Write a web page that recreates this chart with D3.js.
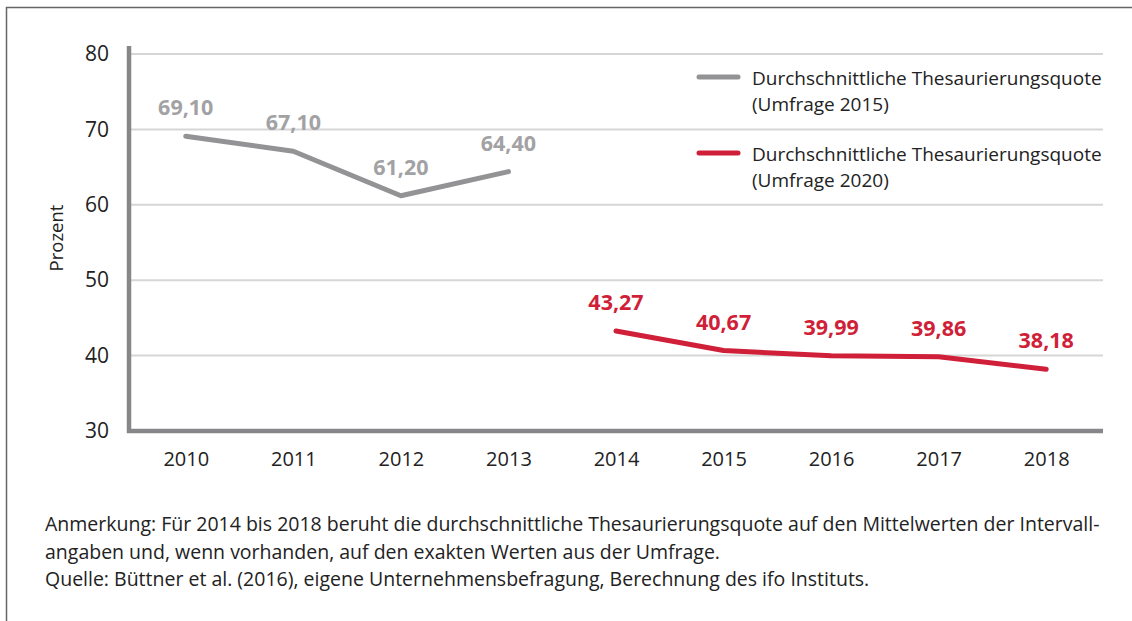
<!DOCTYPE html>
<html>
<head>
<meta charset="utf-8">
<script src="https://cdn.jsdelivr.net/npm/d3@7"></script>
<style>
  body { margin: 0; background: #fff; }
  svg { display: block; }
  text { font-family: "Open Sans", "Noto Sans", sans-serif; }
</style>
</head>
<body>
<div id="chart"></div>
<script>
const width = 1132;
const height = 621;

// data
const years = ['2010', '2011', '2012', '2013', '2014', '2015', '2016', '2017', '2018'];
const survey2015 = [
    { year: '2010', value: 69.10 },
    { year: '2011', value: 67.10 },
    { year: '2012', value: 61.20 },
    { year: '2013', value: 64.40 }
];
const survey2020 = [
    { year: '2014', value: 43.27 },
    { year: '2015', value: 40.67 },
    { year: '2016', value: 39.99 },
    { year: '2017', value: 39.86 },
    { year: '2018', value: 38.18 }
];
const yTicks = [30, 40, 50, 60, 70, 80];
const legendLabels = [
    ['Durchschnittliche Thesaurierungsquote', '(Umfrage 2015)'],
    ['Durchschnittliche Thesaurierungsquote', '(Umfrage 2020)']
];
const notes = [
    'Anmerkung: Für 2014 bis 2018 beruht die durchschnittliche Thesaurierungsquote auf den Mittelwerten der Intervall-',
    'angaben und, wenn vorhanden, auf den exakten Werten aus der Umfrage.',
    'Quelle: Büttner et al. (2016), eigene Unternehmensbefragung, Berechnung des ifo Instituts.'
];

const grey = '#939396';
const greyLabel = '#a2a2a4';
const red = '#d01f38';

const svg = d3.select('#chart')
    .append('svg')
    .attr('width', width)
    .attr('height', height);

// outer frame (only top and left edges are visible)
svg.append('rect')
    .attr('x', 6.5)
    .attr('y', 7.5)
    .attr('width', width + 20)
    .attr('height', height + 20)
    .attr('fill', 'none')
    .attr('stroke', '#666')
    .attr('stroke-width', 1.5);

const x = d3.scalePoint()
    .domain(years)
    .range([132, 1100])
    .padding(0.5);

const y = d3.scaleLinear()
    .domain([30, 80])
    .range([431, 54]);

// gridlines
svg.append('g')
    .selectAll('line')
    .data(yTicks.filter(d => d > 30))
    .join('line')
    .attr('x1', 129)
    .attr('x2', 1103)
    .attr('y1', d => y(d))
    .attr('y2', d => y(d))
    .attr('stroke', '#d6d6d6')
    .attr('stroke-width', 2);

// y axis
const yAxis = svg.append('g')
    .attr('transform', 'translate(129,0)')
    .call(d3.axisLeft(y).tickValues(yTicks).tickSize(0).tickPadding(20).tickFormat(d3.format('d')));
yAxis.select('.domain').remove();
yAxis.selectAll('text')
    .attr('font-size', 21)
    .attr('fill', '#222')
    .style('font-family', '"Open Sans", "Noto Sans", sans-serif');

// x axis
const xAxis = svg.append('g')
    .attr('transform', 'translate(0,431)')
    .call(d3.axisBottom(x).tickSize(0).tickPadding(21));
xAxis.select('.domain').remove();
xAxis.selectAll('text')
    .attr('font-size', 20)
    .attr('fill', '#222')
    .style('font-family', '"Open Sans", "Noto Sans", sans-serif');

// axis lines
svg.append('path')
    .attr('d', 'M129,46 V431 H1103')
    .attr('fill', 'none')
    .attr('stroke', '#87878a')
    .attr('stroke-width', 4.5);

// y axis title
svg.append('text')
    .attr('transform', 'translate(63,238) rotate(-90)')
    .attr('text-anchor', 'middle')
    .attr('font-size', 18.5)
    .attr('fill', '#222')
    .text('Prozent');

const line = d3.line()
    .x(d => x(d.year))
    .y(d => y(d.value));

const fmt = v => v.toFixed(2).replace('.', ',');

function drawSeries(data, color, labelColor) {
    svg.append('path')
        .datum(data)
        .attr('d', line)
        .attr('fill', 'none')
        .attr('stroke', color)
        .attr('stroke-width', 5)
        .attr('stroke-linecap', 'round')
        .attr('stroke-linejoin', 'round');

    svg.append('g')
        .selectAll('text')
        .data(data)
        .join('text')
        .attr('x', d => x(d.year))
        .attr('y', d => y(d.value) - 21)
        .attr('text-anchor', 'middle')
        .attr('font-size', 21.5)
        .attr('font-weight', 'bold')
        .attr('fill', labelColor)
        .text(d => fmt(d.value));
}

drawSeries(survey2015, grey, greyLabel);
drawSeries(survey2020, red, red);

// legend
const legendColors = [grey, red];
const legendY = [78, 154];
legendLabels.forEach((lines, i) => {
    const g = svg.append('g').attr('transform', `translate(0,${legendY[i]})`);
    g.append('line')
        .attr('x1', 699).attr('x2', 738)
        .attr('y1', -1).attr('y2', -1)
        .attr('stroke', legendColors[i])
        .attr('stroke-width', 5)
        .attr('stroke-linecap', 'round');
    lines.forEach((t, j) => {
        g.append('text')
            .attr('x', 752)
            .attr('y', j * 26)
            .attr('dy', '0.35em')
            .attr('font-size', 19)
            .attr('fill', '#222')
            .text(t);
    });
});

// notes
svg.append('g')
    .selectAll('text')
    .data(notes)
    .join('text')
    .attr('x', 45)
    .attr('y', (d, i) => 524 + i * 27.8)
    .attr('dy', '0.35em')
    .attr('font-size', 19.5)
    .attr('fill', '#222')
    .text(d => d);
</script>
</body>
</html>
